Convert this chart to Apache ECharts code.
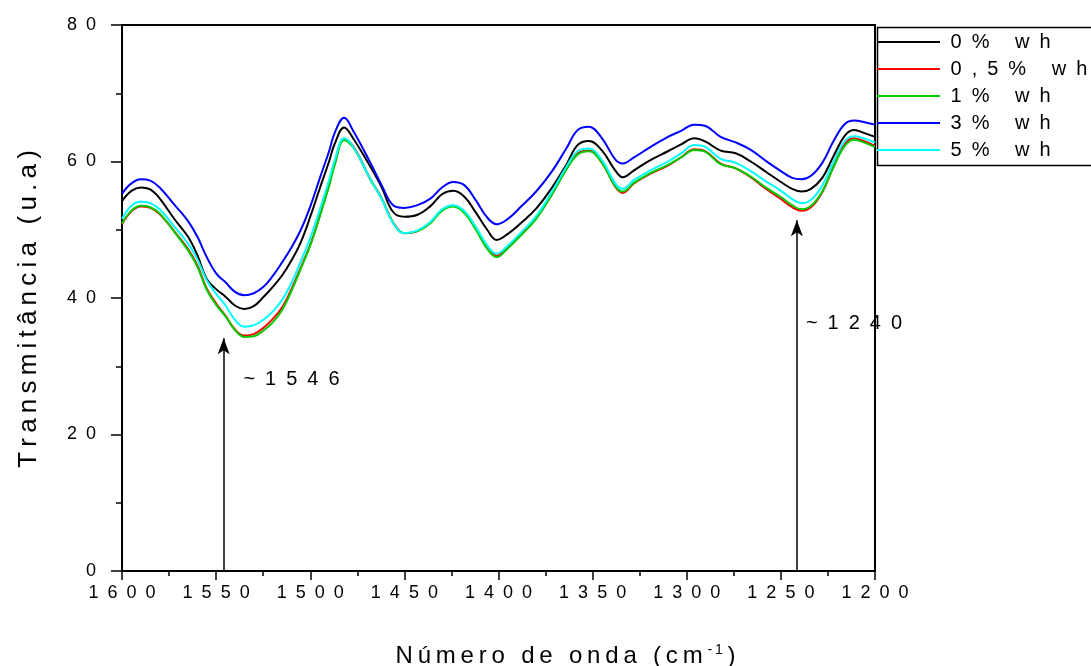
<!DOCTYPE html>
<html>
<head>
<meta charset="utf-8">
<title>Transmitância</title>
<script src="https://cdn.jsdelivr.net/npm/echarts@6/dist/echarts.min.js"></script>
<style>
    html, body { margin: 0; padding: 0; background: #fff; }
    #chart { width: 1091px; height: 666px; }
</style>
</head>
<body>
<div id="chart"></div>
<script>
// número de onda (cm-1), eixo invertido 1600 -> 1200
const wavenumbers = [
    1600, 1595, 1590, 1585, 1580, 1572, 1565, 1560, 1555, 1550,
    1545, 1540, 1535, 1530, 1525, 1520, 1515, 1510, 1505, 1500,
    1495, 1490, 1487, 1482, 1477, 1468, 1462, 1456, 1450, 1443,
    1436, 1430, 1424, 1418, 1412, 1406, 1401, 1395, 1388, 1380,
    1372, 1364, 1358, 1352, 1345, 1338, 1334, 1328, 1320, 1310,
    1303, 1296, 1290, 1282, 1274, 1266, 1258, 1250, 1244, 1239,
    1234, 1228, 1222, 1216, 1211, 1206, 1200
];
// 0% wh
const wh0 = [
    54.2, 55.7, 56.2, 55.9, 54.6, 51.5, 49.0, 46.3, 42.8, 41.3,
    40.2, 38.9, 38.4, 38.8, 40.1, 41.6, 43.3, 45.5, 48.2, 51.9,
    56.0, 60.0, 62.6, 65.0, 63.3, 59.2, 56.2, 52.6, 51.9, 52.2,
    53.5, 55.2, 55.7, 54.8, 52.5, 50.0, 48.5, 49.4, 51.0, 53.1,
    56.0, 59.5, 62.4, 63.0, 61.6, 58.7, 57.7, 58.7, 60.1, 61.5,
    62.5, 63.4, 62.9, 61.6, 61.2, 60.0, 58.5, 57.0, 56.0, 55.6,
    56.0, 57.6, 60.8, 63.8, 64.6, 64.2, 63.6
];
// 0,5% wh
const wh05 = [
    50.8, 52.7, 53.4, 53.2, 52.3, 49.7, 47.2, 44.8, 41.4, 39.2,
    37.4, 35.4, 34.5, 34.7, 35.6, 36.9, 38.6, 41.3, 44.5, 47.8,
    52.0, 56.6, 59.7, 63.3, 62.2, 57.4, 54.6, 51.1, 49.5, 49.8,
    51.1, 52.9, 53.5, 52.6, 50.2, 47.4, 46.2, 47.4, 49.3, 51.7,
    55.0, 58.9, 61.2, 61.6, 59.8, 56.3, 55.4, 56.8, 58.1, 59.4,
    60.6, 61.8, 61.5, 59.7, 59.0, 57.7, 56.0, 54.5, 53.3, 52.8,
    53.3, 55.5, 59.3, 62.6, 63.4, 63.0, 62.3
];
// 1% wh
const wh1 = [
    50.9, 52.8, 53.5, 53.3, 52.4, 49.6, 47.0, 44.6, 41.2, 39.0,
    37.3, 35.3, 34.3, 34.4, 35.2, 36.4, 38.2, 41.0, 44.3, 47.7,
    51.9, 56.4, 59.5, 63.1, 62.0, 57.3, 54.5, 51.0, 49.5, 49.8,
    51.0, 52.8, 53.4, 52.4, 50.0, 47.2, 46.0, 47.3, 49.2, 51.6,
    55.0, 58.8, 61.0, 61.5, 59.8, 56.4, 55.6, 56.9, 58.2, 59.5,
    60.6, 61.7, 61.4, 59.6, 59.0, 57.8, 56.2, 54.8, 53.6, 53.0,
    53.5, 55.6, 59.2, 62.3, 63.2, 62.8, 62.1
];
// 3% wh
const wh3 = [
    55.3, 56.8, 57.4, 57.2, 56.2, 53.6, 51.3, 49.0, 46.0, 43.6,
    42.3, 40.9, 40.4, 40.7, 41.6, 43.2, 45.2, 47.4, 50.0, 53.4,
    57.5, 61.5, 64.2, 66.4, 64.4, 59.8, 56.5, 53.6, 53.2, 53.6,
    54.6, 56.2, 57.0, 56.5, 54.3, 51.8, 50.8, 51.6, 53.4, 55.6,
    58.4, 61.9, 64.6, 65.1, 63.4, 60.3, 59.7, 60.6, 62.0, 63.6,
    64.5, 65.4, 65.2, 63.6, 62.8, 61.7, 60.1, 58.6, 57.6, 57.4,
    57.9, 59.8, 63.0, 65.5, 66.0, 65.8, 65.4
];
// 5% wh
const wh5 = [
    51.6, 53.5, 54.1, 53.9, 53.0, 50.4, 48.0, 45.7, 42.6, 40.6,
    38.9, 36.8, 35.8, 36.0, 36.8, 38.0, 39.7, 42.2, 45.4, 48.8,
    52.9, 57.3, 60.2, 63.4, 62.1, 57.4, 54.5, 51.0, 49.5, 49.9,
    51.2, 53.0, 53.6, 52.7, 50.4, 47.7, 46.5, 47.7, 49.6, 52.0,
    55.4, 59.2, 61.5, 61.9, 60.2, 56.8, 56.0, 57.3, 58.6, 60.0,
    61.2, 62.4, 62.1, 60.4, 59.8, 58.6, 57.1, 55.7, 54.5, 53.9,
    54.4, 56.5, 60.0, 63.0, 63.7, 63.4, 62.8
];
const seriesNames = ['0% wh', '0,5% wh', '1% wh', '3% wh', '5% wh'];
const seriesColors = ['#000000', '#ff0000', '#00cc00', '#0000ff', '#00ffff'];
const seriesValues = [wh0, wh05, wh1, wh3, wh5];
// setas de marcação dos picos
const arrowX = [1546, 1241.5];
const arrowTop = [34.1, 51.4];
const arrowLabels = ['~1546', '~1240'];
const arrowLabelPos = [[1535.5, 28.1], [1236.7, 36.3]];

const FONT = "'Liberation Sans', Arial, sans-serif";
const EN = '\u2002';
const THIN = '\u2009';
// espaçamento largo entre letras, como no original
function spread(s, gap) {
    return String(s).split('').join(gap || EN);
}

let chart = echarts.init(document.getElementById('chart'));

let series = seriesNames.map((name, i) => ({
    name: name,
    type: 'line',
    smooth: 0.4,
    showSymbol: false,
    symbol: 'none',
    lineStyle: { width: 2, color: seriesColors[i] },
    itemStyle: { color: seriesColors[i] },
    data: wavenumbers.map((w, k) => [w, seriesValues[i][k]])
}));

// setas e rótulos ficam na primeira série
series[0].markLine = {
    silent: true,
    symbol: ['none', 'arrow'],
    symbolSize: [9, 16],
    lineStyle: { color: '#000', width: 1.5, type: 'solid' },
    label: { show: false },
    data: arrowX.map((x, i) => [{ coord: [x, 0] }, { coord: [x, arrowTop[i]] }])
};
series[0].markPoint = {
    silent: true,
    symbol: 'circle',
    symbolSize: 0,
    label: {
        show: true,
        position: 'right',
        distance: 0,
        color: '#000',
        fontSize: 20,
        fontFamily: FONT,
        formatter: p => spread(p.name)
    },
    data: arrowLabels.map((t, i) => ({ name: t, coord: arrowLabelPos[i] }))
};

let option = {
    animation: false,
    backgroundColor: '#fff',
    grid: {
        left: 122, right: 216, top: 25, bottom: 95,
        outerBoundsMode: 'none',
        containLabel: false,
        show: true, borderColor: '#000', borderWidth: 2, backgroundColor: 'transparent'
    },
    xAxis: {
        type: 'value',
        inverse: true,
        min: 1200, max: 1600, interval: 50,
        name: spread('Número de onda (cm', THIN) + THIN + '{sup|-' + THIN + '1}' + THIN + ')',
        nameLocation: 'middle',
        nameGap: 72,
        nameTextStyle: {
            fontSize: 24, color: '#000', fontFamily: FONT,
            padding: [0, 0, 0, 134],
            rich: { sup: { fontSize: 14, fontFamily: FONT, color: '#000', padding: [0, 0, 13, 0] } }
        },
        axisLine: { show: true, lineStyle: { color: '#000', width: 2 } },
        axisTick: { show: true, inside: false, length: 9, lineStyle: { color: '#000', width: 1.5 } },
        minorTick: { show: true, splitNumber: 2, length: 5, lineStyle: { color: '#000', width: 1.5 } },
        axisLabel: { color: '#000', fontSize: 18, fontFamily: FONT, margin: 13, formatter: v => spread(v) },
        splitLine: { show: false }
    },
    yAxis: {
        type: 'value',
        min: 0, max: 80, interval: 20,
        name: spread('Transmitância (u.a)', THIN),
        nameLocation: 'middle',
        nameRotate: 90,
        nameGap: 80,
        nameTextStyle: { fontSize: 26, color: '#000', fontFamily: FONT, padding: [0, 22, 0, 0] },
        axisLine: { show: true, lineStyle: { color: '#000', width: 2 } },
        axisTick: { show: true, inside: false, length: 11, lineStyle: { color: '#000', width: 1.5 } },
        minorTick: { show: true, splitNumber: 2, length: 6, lineStyle: { color: '#000', width: 1.5 } },
        axisLabel: { color: '#000', fontSize: 18, fontFamily: FONT, margin: 26, formatter: v => spread(v) },
        splitLine: { show: false }
    },
    legend: {
        orient: 'vertical',
        left: 875,
        top: 25,
        padding: [6, 0, 0, 2],
        itemGap: 5,
        itemWidth: 63,
        itemHeight: 2,
        icon: 'rect',
        data: seriesNames,
        formatter: name => ' ' + spread(name),
        textStyle: { fontSize: 20, lineHeight: 22, color: '#000', fontFamily: FONT }
    },
    graphic: [{
        type: 'rect',
        left: 875,
        top: 25,
        z: -1,
        shape: { width: 240, height: 138 },
        style: { fill: 'none', stroke: '#000', lineWidth: 1.5 }
    }],
    series: series
};

chart.setOption(option);
</script>
</body>
</html>
